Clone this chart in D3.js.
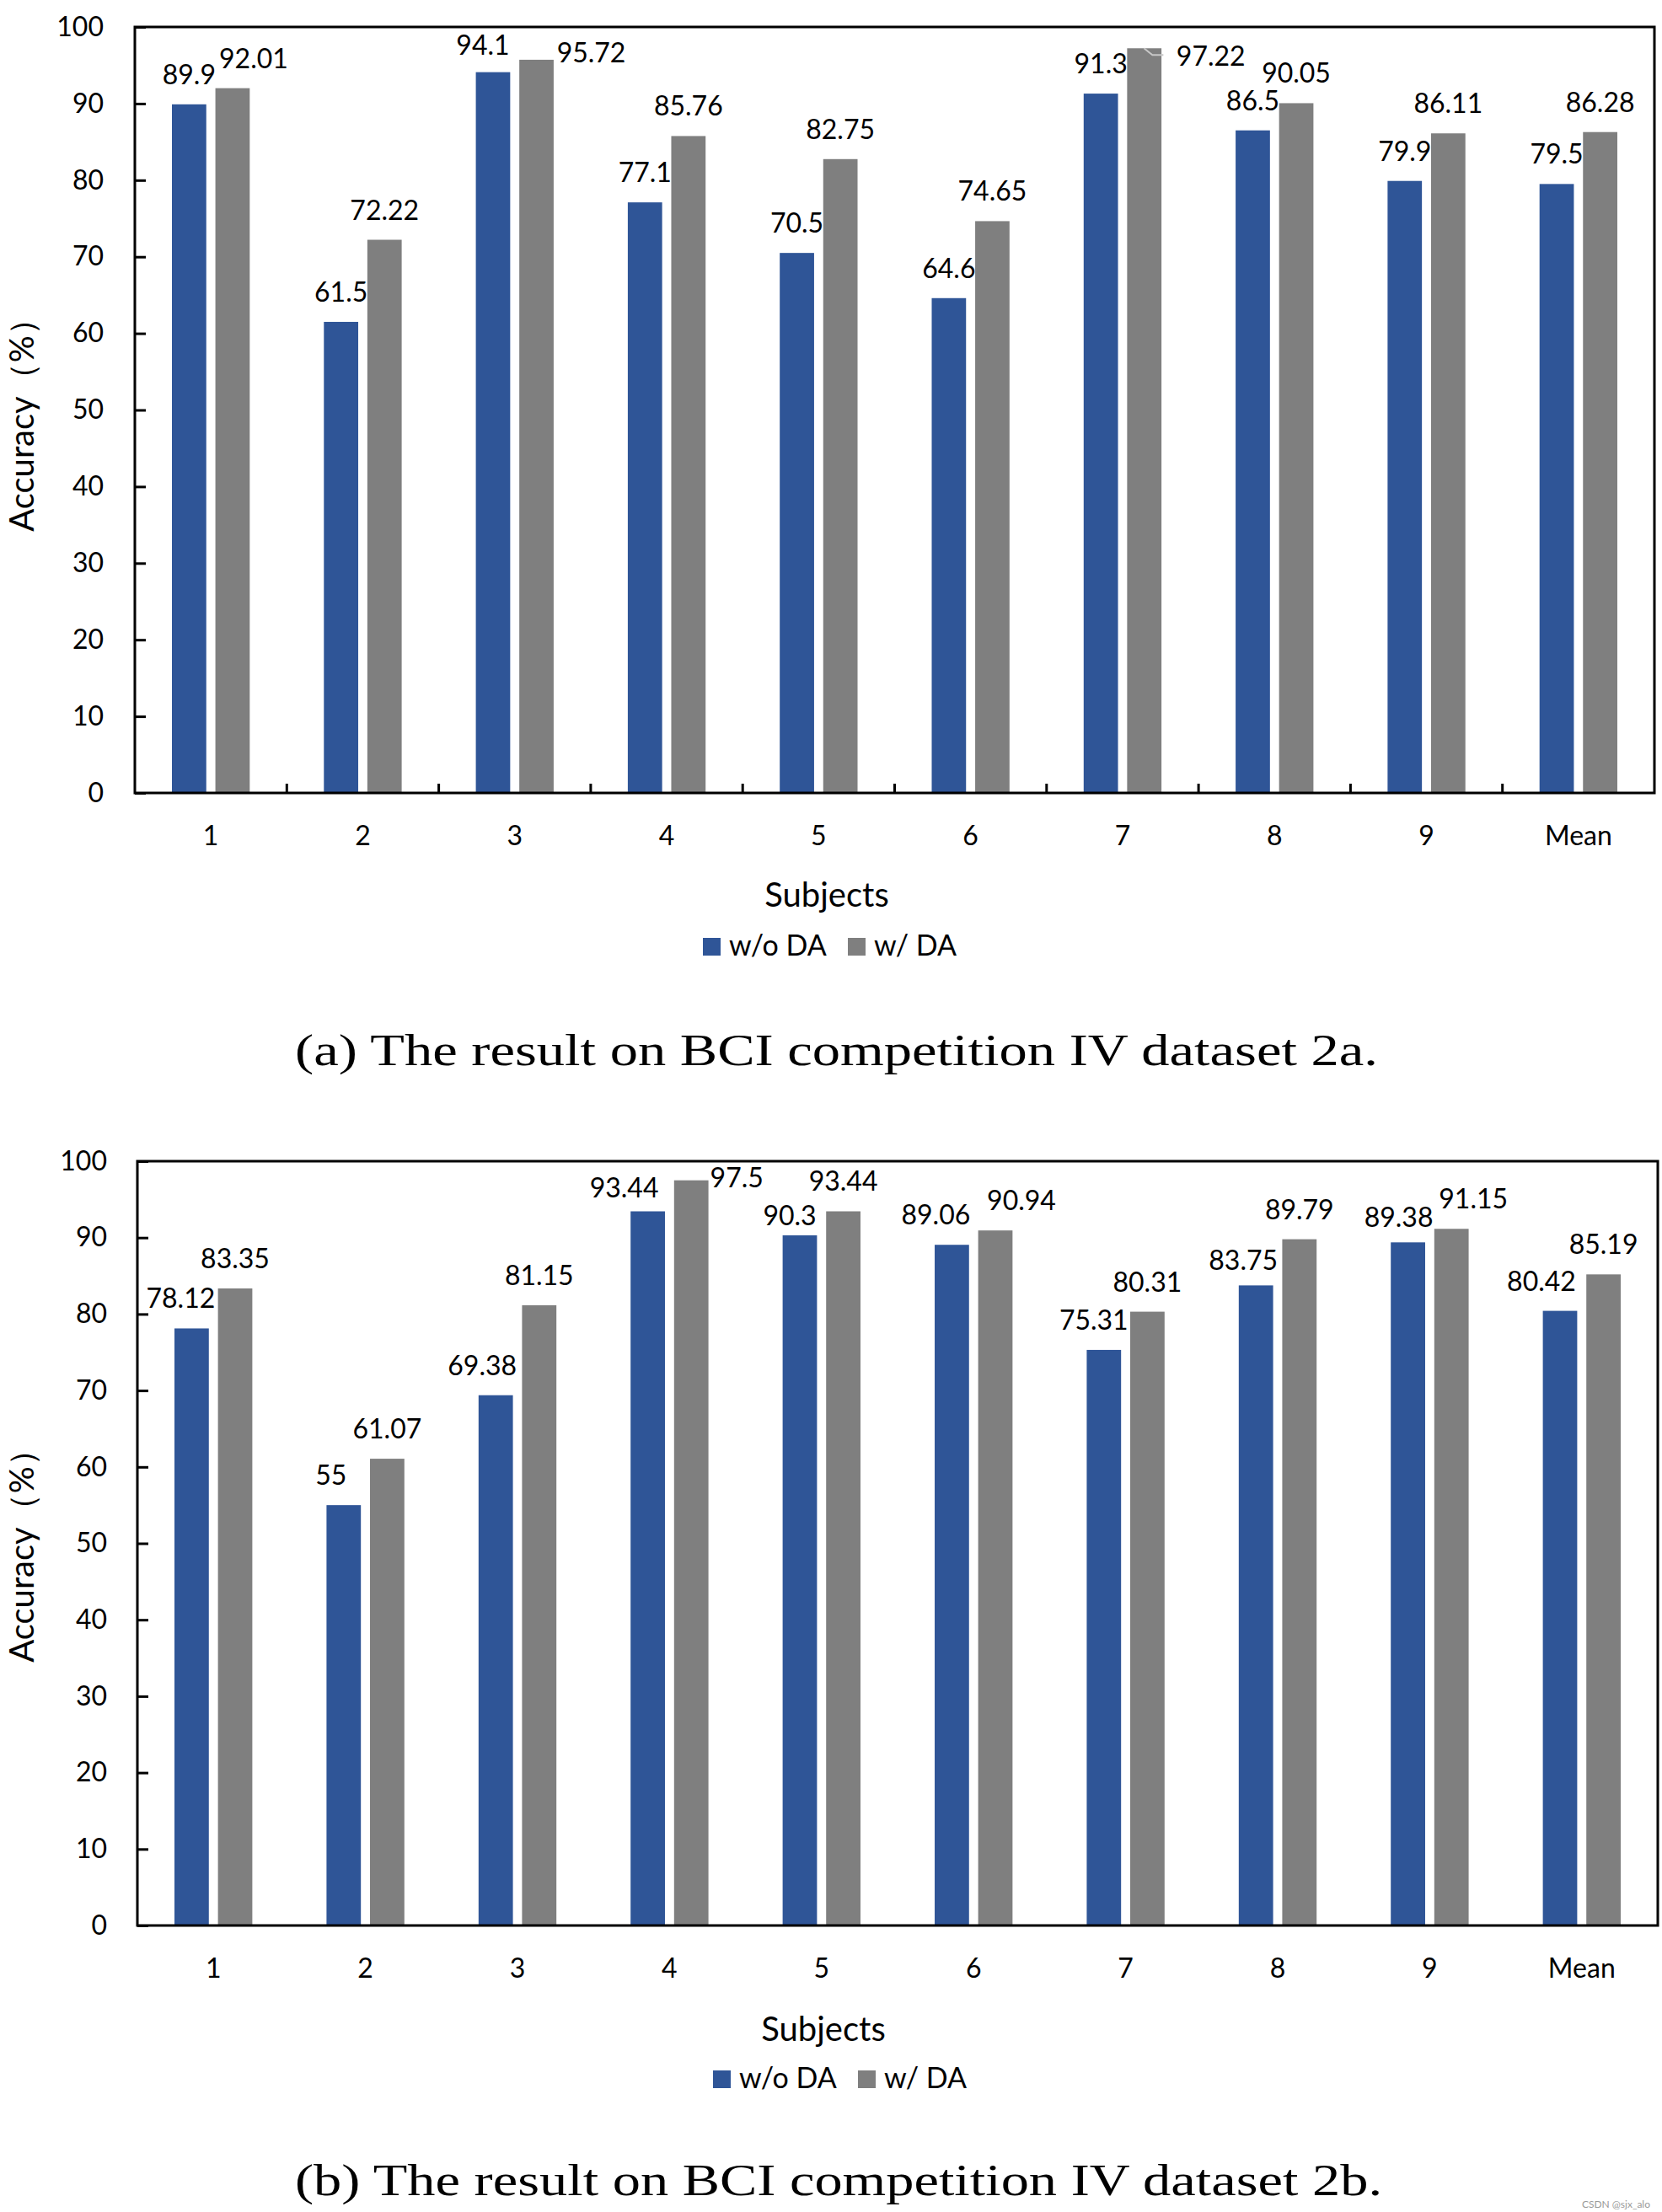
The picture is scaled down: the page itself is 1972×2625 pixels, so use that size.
<!DOCTYPE html>
<html><head><meta charset="utf-8">
<script src="https://cdn.jsdelivr.net/npm/d3@7"></script>
<style>body{margin:0;background:#fff} svg{display:block}</style>
</head><body>
<svg id="c" width="1972" height="2625"></svg>
<script>
// ---------- data ----------
const categories = ["1","2","3","4","5","6","7","8","9","Mean"];
const seriesNames = ["w/o DA","w/ DA"];
const a_woDA = [89.9,61.5,94.1,77.1,70.5,64.6,91.3,86.5,79.9,79.5];
const a_wDA  = [92.01,72.22,95.72,85.76,82.75,74.65,97.22,90.05,86.11,86.28];
const b_woDA = [78.12,55,69.38,93.44,90.3,89.06,75.31,83.75,89.38,80.42];
const b_wDA  = [83.35,61.07,81.15,97.5,93.44,90.94,80.31,89.79,91.15,85.19];
const yTicks = [0,10,20,30,40,50,60,70,80,90,100];
const xTitle = "Subjects";
const yTitle = "Accuracy（%）";
const captionA = "(a) The result on BCI competition IV dataset 2a.";
const captionB = "(b) The result on BCI competition IV dataset 2b.";
const watermark = "CSDN @sjx_alo";

// ---------- layout ----------
const colors = ["#2F5597","#7F7F7F"];
const FONT = "Lato, 'Open Sans', sans-serif";
const svg = d3.select("#c");

function drawChart(cfg){
  const x = d3.scaleBand().domain(categories).range([cfg.left, cfg.right]).padding(0);
  const bw = x.bandwidth();
  const x1 = d3.scaleBand().domain([0,1]).range([bw*0.244, bw*0.756]).paddingInner(0.21).paddingOuter(0);
  const y = d3.scaleLinear().domain([0,100]).range([cfg.bottom, cfg.top]);
  const g = svg.append("g");

  // bars
  cfg.series.forEach((vals, si) => {
    g.selectAll(null).data(vals).enter().append("rect")
      .attr("x", (d,i) => x(categories[i]) + x1(si))
      .attr("width", x1.bandwidth())
      .attr("y", d => y(d))
      .attr("height", d => y(0) - y(d))
      .attr("fill", colors[si]);
  });

  // leader lines
  (cfg.leaders||[]).forEach(L => {
    const [si, i, pts] = L;
    const bx = x(categories[i]) + x1(si), by = y(cfg.series[si][i]);
    g.append("path")
      .attr("d", d3.line()(pts.map(p => [bx + p[0], by + p[1]])))
      .attr("fill","none").attr("stroke","#C8C8C8").attr("stroke-width",2);
  });

  // data labels
  cfg.series.forEach((vals, si) => {
    g.selectAll(null).data(vals).enter().append("text")
      .attr("x", (d,i) => x(categories[i]) + x1(si) + x1.bandwidth()/2 + ((cfg.nudge[si+"-"+i]||[0,0])[0]))
      .attr("y", (d,i) => y(d) - 24 + ((cfg.nudge[si+"-"+i]||[0,0])[1]))
      .attr("text-anchor","middle")
      .attr("font-family", FONT).attr("font-size", 32).attr("fill","#000")
      .text(d => String(d));
  });

  // y axis
  const ya = g.append("g").attr("transform", `translate(${cfg.left},0)`)
    .call(d3.axisLeft(y).tickValues(yTicks).tickSizeInner(-13).tickSizeOuter(0).tickPadding(cfg.yPad));
  ya.select(".domain").remove();
  ya.selectAll(".tick line").attr("stroke","#000").attr("stroke-width",3);
  ya.selectAll(".tick text").attr("font-family", FONT).attr("font-size", 32).attr("fill","#000");

  // x axis labels
  const xa = g.append("g").attr("transform", `translate(0,${cfg.bottom})`)
    .call(d3.axisBottom(x).tickSize(0).tickPadding(0));
  xa.select(".domain").remove();
  xa.selectAll(".tick text").attr("dy", null).attr("y", 62)
    .attr("font-family", FONT).attr("font-size", 32).attr("fill","#000");

  // category boundary ticks
  if (cfg.xTicks) {
    g.selectAll(null).data(categories.slice(1)).enter().append("line")
      .attr("x1", d => x(d)).attr("x2", d => x(d))
      .attr("y1", cfg.bottom).attr("y2", cfg.bottom - 11)
      .attr("stroke","#000").attr("stroke-width",3);
  }

  // frame
  g.append("rect").attr("x", cfg.left).attr("y", cfg.top)
    .attr("width", cfg.right - cfg.left).attr("height", cfg.bottom - cfg.top)
    .attr("fill","none").attr("stroke","#000").attr("stroke-width",3);

  // y title
  g.append("text")
    .attr("transform", `translate(${cfg.yTitleX},${(cfg.top+cfg.bottom)/2 + cfg.yTitleDy}) rotate(-90)`)
    .attr("text-anchor","middle").attr("dominant-baseline","central")
    .attr("font-family", FONT).attr("font-size", 40).attr("fill","#000")
    .text(yTitle);

  // x title
  g.append("text").attr("x", cfg.xTitleX).attr("y", cfg.xTitleY)
    .attr("text-anchor","middle").attr("font-family", FONT).attr("font-size", 40).attr("fill","#000")
    .text(xTitle);

  // legend
  const lg = g.append("g").attr("transform", `translate(${cfg.legX},${cfg.legY})`);
  const offs = [0, 172];
  seriesNames.forEach((n, si) => {
    lg.append("rect").attr("x", offs[si]).attr("y", -21).attr("width", 21).attr("height", 21).attr("fill", colors[si]);
    lg.append("text").attr("x", offs[si] + 31).attr("y", 0)
      .attr("font-family", FONT).attr("font-size", 34).attr("fill","#000").text(n);
  });

  // caption
  g.append("text").attr("x", cfg.capX).attr("y", cfg.capY)
    .attr("font-family","'Liberation Serif', 'DejaVu Serif', serif").attr("font-size", 52).attr("fill","#000")
    .attr("textLength", cfg.capLen).attr("lengthAdjust","spacingAndGlyphs")
    .text(cfg.caption);
}

drawChart({
  left:160, right:1963, top:32, bottom:941, yPad:37, xTicks:true,
  series:[a_woDA, a_wDA],
  nudge:{"1-0":[25,0], "0-2":[-12,3], "1-2":[65,27], "1-6":[79,45]},
  leaders:[[1,6,[[20,0],[30,8],[43,8]]]],
  yTitleX:25, yTitleDy:8, xTitleX:981, xTitleY:1076, legX:834, legY:1134,
  caption:captionA, capX:350, capY:1264, capLen:1285
});

drawChart({
  left:163, right:1967, top:1378, bottom:2285, yPad:36, xTicks:false,
  series:[b_woDA, b_wDA],
  nudge:{"0-0":[-13,0], "0-1":[-15,0], "0-2":[-16,0], "0-3":[-28,8], "1-3":[54,32],
         "0-4":[-12,12], "0-5":[-19,0], "1-5":[31,0], "0-6":[-12,0], "0-7":[-15,6],
         "0-8":[-11,6], "1-8":[26,0], "0-9":[-22,0], "1-9":[0,0]},
  leaders:[],
  yTitleX:25, yTitleDy:5, xTitleX:977, xTitleY:2422, legX:846, legY:2478,
  caption:captionB, capX:350, capY:2605, capLen:1290
});

svg.append("text").attr("x", 1958).attr("y", 2620).attr("text-anchor","end")
  .attr("font-family", FONT).attr("font-size", 12).attr("fill","#9a9a9a").text(watermark);
</script>
</body></html>
